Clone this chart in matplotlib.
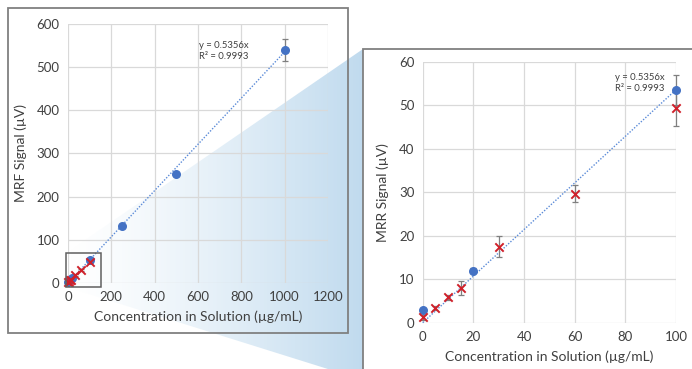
import numpy as np
import matplotlib
matplotlib.use("Agg")
import matplotlib.pyplot as plt
from matplotlib.patches import Rectangle, Polygon

plt.rcParams['font.family'] = ['Lato', 'DejaVu Sans']

# ---- data ----
blue_x = [0, 20, 100, 250, 500, 1000]
blue_y = [3.0, 12.0, 53.5, 133, 252, 540]
blue_err = [0.3, 0.5, 3.5, 2.0, 3.0, 25]
red_x = [0, 5, 10, 15, 30, 60, 100]
red_y = [1.2, 3.4, 5.8, 8.0, 17.5, 29.7, 49.3]
red_err = [0.5, 0.5, 0.6, 1.7, 2.4, 2.0, 4.0]
slope = 0.5356
fit_label = "y = 0.5356x\nR² = 0.9993"
xlabel = "Concentration in Solution (µg/mL)"
ylabel_left = "MRF Signal (µV)"
ylabel_right = "MRR Signal (µV)"
left_xticks = [0, 200, 400, 600, 800, 1000, 1200]
left_yticks = [0, 100, 200, 300, 400, 500, 600]
right_xticks = [0, 20, 40, 60, 80, 100]
right_yticks = [0, 10, 20, 30, 40, 50, 60]

W, H = 692, 369
fig = plt.figure(figsize=(W / 100, H / 100), dpi=100)
fig.patch.set_facecolor('white')

BLUE = '#4472C4'
RED = '#D0202A'
GRID = '#D9D9D9'
FRAME = '#808080'

# background axes in pixel coordinates
bg = fig.add_axes([0, 0, 1, 1], zorder=0)
bg.set_xlim(0, W)
bg.set_ylim(H, 0)
bg.axis('off')

# gradient wedge
grad = np.linspace(0, 1, 256) ** 1.3
cols = np.zeros((1, 256, 4))
cols[..., 0] = 0.74
cols[..., 1] = 0.85
cols[..., 2] = 0.93
cols[..., 3] = grad * 0.95
im = bg.imshow(cols, extent=(66, 365, H + 10, 40), aspect='auto', zorder=1)
wedge = Polygon([(66, 253), (363, 49), (363, 380), (66, 287)], closed=True,
                transform=bg.transData, facecolor='none', edgecolor='none')
bg.add_patch(wedge)
im.set_clip_path(wedge)

# frames
bg.add_patch(Rectangle((8, 8), 340, 325, fill=False, edgecolor=FRAME, lw=1.3, zorder=3))
bg.add_patch(Rectangle((363, 49), 340, 340, facecolor='white', edgecolor=FRAME, lw=1.3, zorder=3))


def style(ax, xt, yt):
    ax.set_xticks(xt)
    ax.set_yticks(yt)
    ax.set_xlim(xt[0], xt[-1])
    ax.set_ylim(yt[0], yt[-1])
    ax.grid(True, color=GRID, lw=0.9)
    ax.set_axisbelow(True)
    for s in ax.spines.values():
        s.set_visible(False)
    ax.tick_params(length=0, labelsize=9.5, colors='#404040', pad=6)
    ax.set_xlabel(xlabel, fontsize=10, color='#404040', labelpad=5)


def draw(ax, xmax):
    xs = np.array([0, xmax])
    ax.plot(xs, slope * xs, ls=(0, (1, 1.2)), color='#5B8BD8', lw=1.0, zorder=3, clip_on=False)
    ax.errorbar(blue_x, blue_y, yerr=blue_err, fmt='none', ecolor='#7F7F7F',
                elinewidth=0.9, capsize=2.5, capthick=0.9, zorder=4, clip_on=False)
    ax.errorbar(red_x, red_y, yerr=red_err, fmt='none', ecolor='#7F7F7F',
                elinewidth=0.9, capsize=2.5, capthick=0.9, zorder=4, clip_on=False)
    ax.scatter(blue_x, blue_y, s=30, color=BLUE, zorder=5, clip_on=False)
    ax.scatter(red_x, red_y, s=36, marker='x', color=RED, linewidths=1.4, zorder=6, clip_on=False)


# left panel
axl = fig.add_axes([68 / W, (H - 283) / H, 260 / W, 259 / H], zorder=2)
axl.patch.set_alpha(0)
style(axl, left_xticks, left_yticks)
axl.set_ylabel(ylabel_left, fontsize=10, color='#404040', labelpad=7)
draw(axl, 1000)
axl.text(605, 537, fit_label, fontsize=6.8, color='#404040', va='center', ha='left', linespacing=1.3)
axl.add_patch(Rectangle((-9, -9), 161, 79, fill=False, edgecolor='#606060', lw=1.1,
                        zorder=7, clip_on=False))

# right panel
axr = fig.add_axes([422.7 / W, (H - 322.7) / H, 253.3 / W, 261 / H], zorder=4)
axr.patch.set_facecolor('white')
style(axr, right_xticks, right_yticks)
axr.set_ylabel(ylabel_right, fontsize=10, color='#404040', labelpad=7)
draw(axr, 100)
axr.text(76.0, 55.2, fit_label, fontsize=6.8, color='#404040', va='center', ha='left', linespacing=1.3)

fig.savefig('out.png', dpi=100)
